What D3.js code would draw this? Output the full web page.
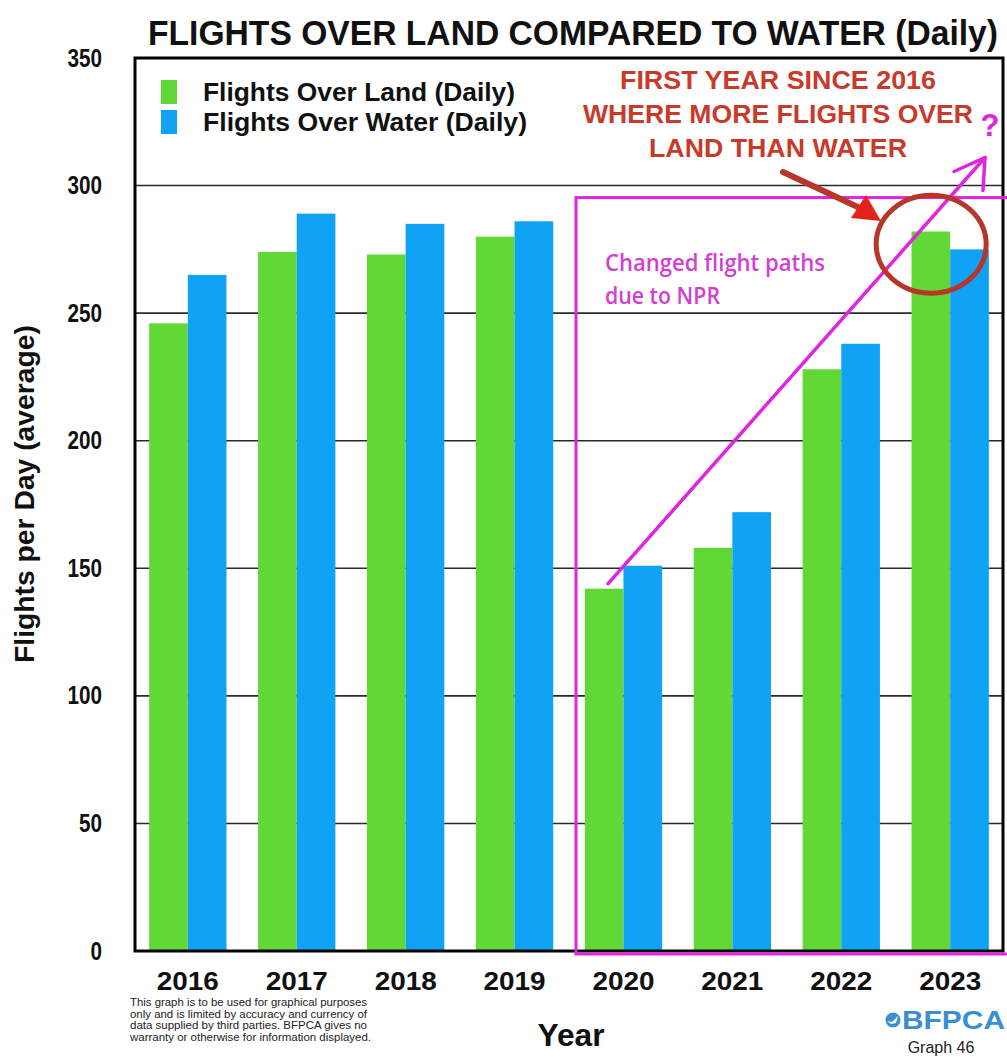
<!DOCTYPE html>
<html>
<head>
<meta charset="utf-8">
<script src="https://cdn.jsdelivr.net/npm/d3@7"></script>
<style>
  html, body { margin: 0; padding: 0; background: #fff; }
  svg { display: block; }
  text { font-family: "Liberation Sans", Arial, sans-serif; }
</style>
</head>
<body>
<svg id="chart" width="1007" height="1057"></svg>
<script>
// Average daily flights, by year
const years = ["2016", "2017", "2018", "2019", "2020", "2021", "2022", "2023"];
const overLand = [246, 274, 273, 280, 142, 158, 228, 282];
const overWater = [265, 289, 285, 286, 151, 172, 238, 275];
const seriesNames = ["Flights Over Land (Daily)", "Flights Over Water (Daily)"];
const seriesColors = ["#62d836", "#10a2f5"];
const yTicks = [0, 50, 100, 150, 200, 250, 300, 350];

const disclaimer = [
  "This graph is to be used for graphical purposes",
  "only and is limited by accuracy and currency of",
  "data supplied by third parties. BFPCA gives no",
  "warranty or otherwise for information displayed."
];
const calloutLines = ["FIRST YEAR SINCE 2016", "WHERE MORE FLIGHTS OVER", "LAND THAN WATER"];
const nprLines = ["Changed flight paths", "due to NPR"];

const svg = d3.select("#chart");
const plot = { left: 135, right: 1003, top: 58, bottom: 951 };

const x = d3.scaleBand().domain(years)
  .range([plot.left, plot.right]).paddingInner(0.29).paddingOuter(0.13);
const xSeries = d3.scaleBand().domain([0, 1]).range([0, x.bandwidth()]);
const y = d3.scaleLinear().domain([0, 350]).range([plot.bottom, plot.top]);

const rows = years.map((yr, i) => ({ year: yr, values: [overLand[i], overWater[i]] }));

// Condensed bold look: set a tall size and squeeze to the measured width
function squeeze(sel, widthFn) {
  sel.attr("textLength", widthFn).attr("lengthAdjust", "spacingAndGlyphs");
}

// Title (stretched vertically for a condensed look)
svg.append("text")
  .attr("transform", "translate(148,45) scale(1,1.12)")
  .attr("textLength", 850).attr("lengthAdjust", "spacingAndGlyphs")
  .style("font-size", "32px").style("font-weight", "bold").attr("fill", "#111")
  .text("FLIGHTS OVER LAND COMPARED TO WATER (Daily)");

// Horizontal grid
svg.append("g")
  .selectAll("line").data(yTicks.filter(t => t > 0 && t < 350)).join("line")
  .attr("x1", plot.left).attr("x2", plot.right)
  .attr("y1", d => y(d)).attr("y2", d => y(d))
  .attr("stroke", "#2a2a2a").attr("stroke-width", 1.6);

// Bars
svg.append("g")
  .selectAll("g").data(rows).join("g")
  .attr("transform", d => `translate(${x(d.year)},0)`)
  .selectAll("rect").data(d => d.values.map((v, k) => ({ v, k }))).join("rect")
  .attr("x", d => xSeries(d.k))
  .attr("width", xSeries.bandwidth())
  .attr("y", d => y(d.v))
  .attr("height", d => y(0) - y(d.v))
  .attr("fill", d => seriesColors[d.k]);

// Y axis tick labels
const yAxis = d3.axisLeft(y).tickValues(yTicks).tickSize(0).tickPadding(33);
const gy = svg.append("g").attr("transform", `translate(${plot.left},0)`).call(yAxis);
gy.select(".domain").remove();
gy.selectAll("text")
  .style("font-size", "25px").style("font-weight", "bold")
  .style("font-family", "Liberation Sans, Arial, sans-serif")
  .attr("fill", "#111")
  .call(squeeze, d => String(d).length * 11.5);

// X axis tick labels
const xAxis = d3.axisBottom(x).tickSize(0).tickPadding(21);
const gx = svg.append("g").attr("transform", `translate(0,${plot.bottom})`).call(xAxis);
gx.select(".domain").remove();
gx.selectAll("text")
  .style("font-size", "26px").style("font-weight", "bold")
  .style("font-family", "Liberation Sans, Arial, sans-serif")
  .attr("fill", "#111")
  .call(squeeze, 62);

// Plot frame
svg.append("rect")
  .attr("x", plot.left).attr("y", plot.top)
  .attr("width", plot.right - plot.left).attr("height", plot.bottom - plot.top)
  .attr("fill", "none").attr("stroke", "#000").attr("stroke-width", 3);

// Axis titles
svg.append("text")
  .attr("transform", "translate(34,494) rotate(-90)")
  .attr("text-anchor", "middle")
  .attr("textLength", 338).attr("lengthAdjust", "spacingAndGlyphs")
  .style("font-size", "27px").style("font-weight", "bold").attr("fill", "#111")
  .text("Flights per Day (average)");

svg.append("text")
  .attr("x", 571).attr("y", 1046).attr("text-anchor", "middle")
  .attr("textLength", 67).attr("lengthAdjust", "spacingAndGlyphs")
  .style("font-size", "31px").style("font-weight", "bold").attr("fill", "#111")
  .text("Year");

// Legend
const legend = svg.append("g").attr("transform", "translate(161,80)");
seriesNames.forEach((name, i) => {
  legend.append("rect").attr("x", 0).attr("y", i * 30).attr("width", 16).attr("height", 24)
    .attr("fill", seriesColors[i]);
  legend.append("text").attr("x", 42).attr("y", i * 30 + 21)
    .attr("textLength", i === 0 ? 312 : 324).attr("lengthAdjust", "spacingAndGlyphs")
    .style("font-size", "25px").style("font-weight", "bold").attr("fill", "#111")
    .text(name);
});

// Region affected by the new flight paths (2020 onward)
const magenta = "#e024e0";
const boxLeft = (x("2019") + x.bandwidth() + x("2020")) / 2 + 7;
svg.append("rect")
  .attr("x", boxLeft).attr("y", y(295.3))
  .attr("width", 1010 - boxLeft).attr("height", plot.bottom + 3 - y(295.3))
  .attr("fill", "none").attr("stroke", magenta).attr("stroke-width", 3);

const nprText = svg.append("text").attr("fill", "#d23fd2")
  .style("font-family", "Open Sans, sans-serif").style("font-weight", "600").style("font-size", "24px");
nprLines.forEach((t, i) => {
  nprText.append("tspan").attr("x", 605).attr("y", 271 + i * 33)
    .attr("textLength", i === 0 ? 220 : 115).attr("lengthAdjust", "spacingAndGlyphs")
    .text(t);
});

// Trend arrow from 2020 upward past 2023
const ax0 = x("2020") + xSeries.bandwidth() / 2 + 4, ay0 = y(overLand[4]) - 5;
const ax1 = 985, ay1 = y(311);
svg.append("line")
  .attr("x1", ax0).attr("y1", ay0).attr("x2", ax1).attr("y2", ay1)
  .attr("stroke", magenta).attr("stroke-width", 3.5).attr("stroke-linecap", "round");
svg.append("path")
  .attr("d", `M${ax1 - 31},${ay1 + 14} L${ax1},${ay1} L${ax1 - 2},${ay1 + 33}`)
  .attr("fill", "none").attr("stroke", magenta).attr("stroke-width", 3.5)
  .attr("stroke-linecap", "round").attr("stroke-linejoin", "round");
svg.append("text")
  .attr("x", 990).attr("y", 136).attr("text-anchor", "middle")
  .style("font-size", "31px").style("font-weight", "bold").attr("fill", magenta)
  .text("?");

// Red callout for 2023
const red = "#c83a2a";
const callout = svg.append("text").attr("text-anchor", "middle").attr("fill", red)
  .style("font-size", "25px").style("font-weight", "bold")
  .attr("stroke", "#fff").attr("stroke-width", 0.6).attr("paint-order", "stroke");
const calloutWidths = [316, 390, 258];
calloutLines.forEach((t, i) => {
  callout.append("tspan").attr("x", 778).attr("y", 89 + i * 34)
    .attr("textLength", calloutWidths[i]).attr("lengthAdjust", "spacingAndGlyphs")
    .text(t);
});

const cx = x("2023") + x.bandwidth() / 2 - 19, cy = y(277);
svg.append("ellipse")
  .attr("cx", cx).attr("cy", cy).attr("rx", 55).attr("ry", 49)
  .attr("fill", "none").attr("stroke", "#b8352a").attr("stroke-width", 5);

svg.append("line")
  .attr("x1", 783).attr("y1", 172).attr("x2", 862).attr("y2", 209)
  .attr("stroke", "#b8352a").attr("stroke-width", 6).attr("stroke-linecap", "round");
svg.append("path")
  .attr("d", "M881,221 L851,218 L866,195 Z")
  .attr("fill", "#e2231a");

// Footer: disclaimer, logo and graph number
const disc = svg.append("text").style("font-size", "10px").attr("fill", "#222");
disclaimer.forEach((t, i) => {
  disc.append("tspan").attr("x", 130).attr("y", 1006 + i * 11.7)
    .attr("textLength", i === 3 ? 241 : 237).attr("lengthAdjust", "spacingAndGlyphs")
    .text(t);
});

const logo = svg.append("g").attr("transform", "translate(885,1020)");
logo.append("circle").attr("cx", 8).attr("cy", 0).attr("r", 7.5).attr("fill", "#3a8fd2");
logo.append("path").attr("d", "M2,1 L7,2 L13,-4 L11,3 L6,4 Z").attr("fill", "#fff");
logo.append("text").attr("x", 17).attr("y", 9)
  .attr("textLength", 103).attr("lengthAdjust", "spacingAndGlyphs")
  .style("font-size", "25px").style("font-weight", "bold").attr("fill", "#3a8fd2")
  .text("BFPCA");

svg.append("text").attr("x", 941).attr("y", 1053).attr("text-anchor", "middle")
  .style("font-size", "16px").attr("fill", "#222")
  .text("Graph 46");
</script>
</body>
</html>
